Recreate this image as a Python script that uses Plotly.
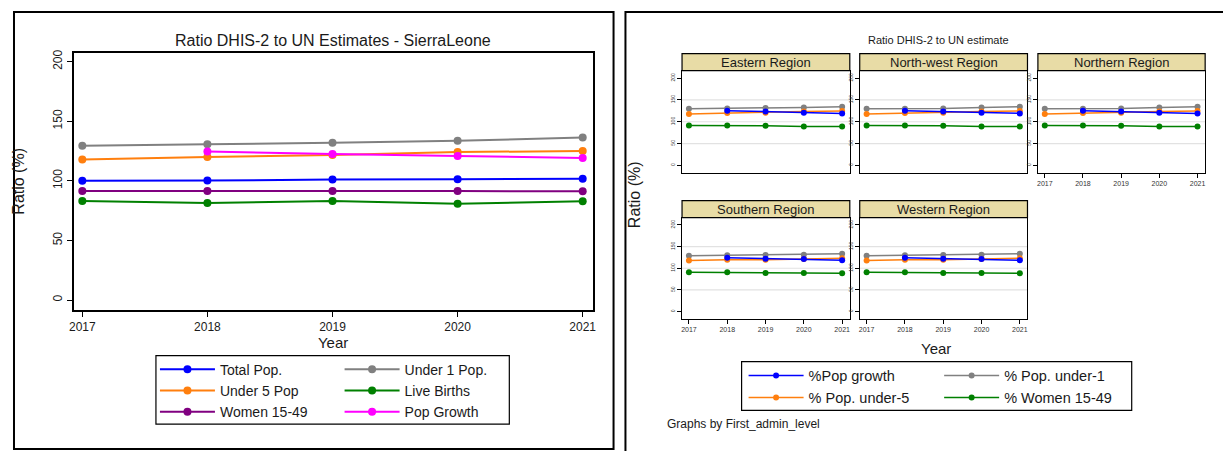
import plotly.graph_objects as go

# The page body has an 8px margin, so the figure is drawn 8px in from the
# window's top-left corner; all pixel positions below are window pixels.
WIN_W, WIN_H = 1231, 451
OFF = 8
FW, FH = WIN_W - OFF, WIN_H - OFF
FONT = "Liberation Sans, Arial, sans-serif"

years = [2017, 2018, 2019, 2020, 2021]
y_ticks = [0, 50, 100, 150, 200]

# ---- National (left chart) ----
total_pop = [100.0, 100.3, 101.1, 101.4, 101.7]
under1_pop = [129.4, 130.8, 131.9, 133.6, 136.4]
under5_pop = [118.0, 120.0, 121.7, 124.2, 125.0]
live_births = [83.1, 81.4, 83.1, 80.8, 82.8]
women_15_49 = [91.4, 91.4, 91.4, 91.4, 91.2]
pop_growth = [None, 124.7, 122.5, 120.8, 119.2]

# ---- Regions (right chart) ----
regions = ["Eastern Region", "North-west Region", "Northern Region",
           "Southern Region", "Western Region"]
reg_pop_growth = {
    "Eastern Region": [None, 125.2, 123.7, 120.6, 119.1],
    "North-west Region": [None, 125.2, 123.7, 120.6, 119.1],
    "Northern Region": [None, 125.2, 123.7, 120.6, 119.1],
    "Southern Region": [None, 124.4, 122.1, 121.4, 118.3],
    "Western Region": [None, 124.4, 122.1, 121.4, 118.3],
}
reg_under1 = {
    "Eastern Region": [129.8, 130.5, 131.3, 132.8, 134.4],
    "North-west Region": [129.8, 129.8, 130.5, 132.8, 134.4],
    "Northern Region": [129.8, 129.8, 130.5, 132.8, 134.4],
    "Southern Region": [129.0, 129.8, 130.5, 131.3, 133.6],
    "Western Region": [129.0, 129.8, 130.5, 131.3, 133.6],
}
reg_under5 = {
    "Eastern Region": [117.6, 119.8, 120.6, 123.7, 124.4],
    "North-west Region": [117.6, 119.8, 120.6, 123.7, 124.4],
    "Northern Region": [117.6, 119.8, 120.6, 123.7, 124.4],
    "Southern Region": [117.6, 119.8, 119.8, 121.4, 122.9],
    "Western Region": [117.6, 119.8, 119.8, 121.4, 122.9],
}
reg_women = {
    "Eastern Region": [91.6, 91.6, 90.8, 89.3, 89.3],
    "North-west Region": [91.6, 91.6, 90.8, 89.3, 89.3],
    "Northern Region": [91.6, 91.6, 90.8, 89.3, 89.3],
    "Southern Region": [90.8, 90.8, 89.3, 89.3, 88.5],
    "Western Region": [90.8, 90.8, 89.3, 89.3, 88.5],
}

BLUE, GRAY, ORANGE = "#0000FF", "#808080", "#FF7F0E"
GREEN, PURPLE, MAGENTA = "#008000", "#800080", "#FF00FF"
STRIP = "#E8DCA6"
TXT = "#1a1a1a"


def px(x):
    return (x - OFF) / FW


def py(y):
    return 1 - (y - OFF) / FH


fig = go.Figure()

# ---------------- Left chart ----------------
left_series = [
    ("Total Pop.", total_pop, BLUE, "legend"),
    ("Under 5 Pop", under5_pop, ORANGE, "legend"),
    ("Women 15-49", women_15_49, PURPLE, "legend"),
    ("Under 1 Pop.", under1_pop, GRAY, "legend2"),
    ("Live Births", live_births, GREEN, "legend2"),
    ("Pop Growth", pop_growth, MAGENTA, "legend2"),
]
for name, vals, col, lg in left_series:
    fig.add_trace(go.Scatter(
        x=years, y=vals, name=name, mode="lines+markers",
        line=dict(color=col, width=2, simplify=False),
        marker=dict(color=col, size=8),
        xaxis="x", yaxis="y", legend=lg))

# ---------------- Right chart (small multiples) ----------------
col_x = [(682, 851), (861, 1030), (1040.5, 1209)]
row_y = [(68, 171), (216, 318)]
panel_pos = [(0, 0), (0, 1), (0, 2), (1, 0), (1, 1)]
show_xlabels = [False, False, True, True, True]

reg_series = [
    ("%Pop growth", reg_pop_growth, BLUE, "legend3"),
    ("% Pop. under-5", reg_under5, ORANGE, "legend3"),
    ("% Pop. under-1", reg_under1, GRAY, "legend4"),
    ("% Women 15-49", reg_women, GREEN, "legend4"),
]
draw_order = [2, 1, 0, 3]

for i, reg in enumerate(regions):
    ax = i + 2
    for k in draw_order:
        name, data, col, lg = reg_series[k]
        fig.add_trace(go.Scatter(
            x=years, y=data[reg], name=name, mode="lines+markers",
            line=dict(color=col, width=1.5), marker=dict(color=col, size=6),
            xaxis=f"x{ax}", yaxis=f"y{ax}", legend=lg,
            showlegend=(i == 0), legendrank=k + 1))

layout = dict(
    width=FW, height=FH, margin=dict(l=0, r=0, t=0, b=0),
    paper_bgcolor="white", plot_bgcolor="white",
    font=dict(family=FONT, color=TXT),
    showlegend=True, hovermode=False,
)

layout["xaxis"] = dict(
    domain=[px(69), px(592)], range=[2016.93, 2021.08], anchor="y",
    tickvals=years, ticks="outside", ticklen=5, tickcolor="black",
    tickfont=dict(size=12, color=TXT),
    showline=True, linecolor="black", linewidth=1.5, mirror=True,
    showgrid=False, zeroline=False,
    title=dict(text="Year", font=dict(size=15), standoff=0))
layout["yaxis"] = dict(
    domain=[py(309), py(50)], range=[-8.3, 207.5], anchor="x",
    tickvals=y_ticks, ticks="outside", ticklen=5, tickcolor="black",
    tickangle=-90, tickfont=dict(size=12, color=TXT),
    showline=True, linecolor="black", linewidth=1.5, mirror=True,
    showgrid=False, zeroline=False,
    title=dict(text="Ratio (%)", font=dict(size=16), standoff=22))

shapes = []
annotations = []

for i, reg in enumerate(regions):
    ax = i + 2
    r, c = panel_pos[i]
    x0, x1 = col_x[c]
    y0, y1 = row_y[r]
    layout[f"xaxis{ax}"] = dict(
        domain=[px(x0), px(x1)], range=[2016.82, 2021.2], anchor=f"y{ax}",
        tickvals=years, ticks="outside" if show_xlabels[i] else "",
        ticklen=4, tickcolor="black",
        showticklabels=show_xlabels[i], tickfont=dict(size=7, color="#333"),
        showline=True, linecolor="black", linewidth=1.2, mirror=True,
        showgrid=False, zeroline=False)
    layout[f"yaxis{ax}"] = dict(
        domain=[py(y1), py(y0)], range=[-17, 217], anchor=f"x{ax}",
        tickvals=y_ticks, ticks="outside", ticklen=4, tickcolor="black",
        tickangle=-90, tickfont=dict(size=5, color="#333"),
        showline=True, linecolor="black", linewidth=1.2, mirror=True,
        showgrid=False, zeroline=False)
    for g in (50, 100, 150):
        shapes.append(dict(type="line", xref=f"x{ax} domain", yref=f"y{ax}",
                           x0=0, x1=1, y0=g, y1=g, layer="below",
                           line=dict(color="#E2E2E2", width=1.2)))
    shapes.append(dict(type="rect", xref="paper", yref="paper",
                       x0=px(x0), x1=px(x1), y0=py(y0), y1=py(y0 - 17),
                       fillcolor=STRIP, line=dict(color="black", width=1.2)))
    annotations.append(dict(text=reg, xref="paper", yref="paper",
                            x=px((x0 + x1) / 2), y=py(y0 - 8.5),
                            showarrow=False, xanchor="center", yanchor="middle",
                            font=dict(size=13, color=TXT)))

# outer frames
shapes.append(dict(type="rect", xref="paper", yref="paper",
                   x0=px(9), x1=px(613), y0=py(449), y1=py(9),
                   line=dict(color="black", width=2)))
shapes.append(dict(type="rect", xref="paper", yref="paper",
                   x0=px(625), x1=px(1245), y0=py(470), y1=py(9),
                   line=dict(color="black", width=2)))
# legend boxes
shapes.append(dict(type="rect", xref="paper", yref="paper",
                   x0=px(152), x1=px(508), y0=py(424), y1=py(355),
                   line=dict(color="black", width=1.2)))
shapes.append(dict(type="rect", xref="paper", yref="paper",
                   x0=px(742), x1=px(1135), y0=py(410), y1=py(361),
                   line=dict(color="black", width=1.2)))

annotations += [
    dict(text="Ratio DHIS-2 to UN Estimates - SierraLeone", x=px(330), y=py(38),
         xref="paper", yref="paper", showarrow=False, xanchor="center",
         yanchor="middle", font=dict(size=16, color=TXT)),
    dict(text="Ratio DHIS-2 to UN estimate", x=px(940), y=py(37),
         xref="paper", yref="paper", showarrow=False, xanchor="center",
         yanchor="middle", font=dict(size=11, color=TXT)),
    dict(text="Ratio (%)", x=px(634), y=py(193), textangle=-90,
         xref="paper", yref="paper", showarrow=False, xanchor="center",
         yanchor="middle", font=dict(size=16, color=TXT)),
    dict(text="Year", x=px(938), y=py(348),
         xref="paper", yref="paper", showarrow=False, xanchor="center",
         yanchor="middle", font=dict(size=15, color=TXT)),
    dict(text="Graphs by First_admin_level", x=px(665), y=py(424),
         xref="paper", yref="paper", showarrow=False, xanchor="left",
         yanchor="middle", font=dict(size=12, color=TXT)),
]

leg_common = dict(orientation="v", xanchor="left", yanchor="top",
                  bgcolor="rgba(0,0,0,0)", borderwidth=0, itemwidth=55,
                  tracegroupgap=0, itemclick=False, itemdoubleclick=False,
                  traceorder="normal")
layout["legend"] = dict(leg_common, x=px(151), y=py(353),
                        font=dict(size=14, family=FONT, color=TXT))
layout["legend2"] = dict(leg_common, x=px(337), y=py(353),
                         font=dict(size=14, family=FONT, color=TXT))
layout["legend3"] = dict(leg_common, x=px(744), y=py(359),
                         font=dict(size=14.5, family=FONT, color=TXT))
layout["legend4"] = dict(leg_common, x=px(941), y=py(359),
                         font=dict(size=14.5, family=FONT, color=TXT))

layout["shapes"] = shapes
layout["annotations"] = annotations
fig.update_layout(**layout)

fig.write_html("out.html")
